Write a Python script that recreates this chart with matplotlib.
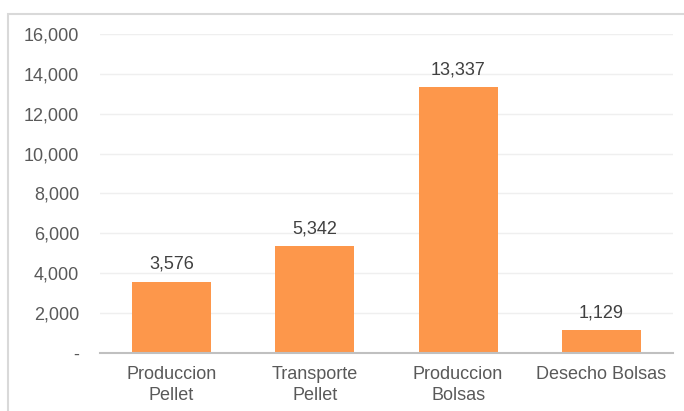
import matplotlib
matplotlib.use("Agg")
import matplotlib.pyplot as plt
from matplotlib.patches import Rectangle
from matplotlib.ticker import FuncFormatter

categories = ["Produccion\nPellet", "Transporte\nPellet", "Produccion\nBolsas", "Desecho Bolsas"]
values = [3576, 5342, 13337, 1129]
yticks = [0, 2000, 4000, 6000, 8000, 10000, 12000, 14000, 16000]

plt.rcParams["font.family"] = ["Liberation Sans", "DejaVu Sans"]
text_color = "#595959"
bar_color = "#FD974B"

fig = plt.figure(figsize=(6.84, 4.11), dpi=100)
fig.patch.set_facecolor("white")

# chart frame
fig.add_artist(Rectangle((7.5 / 684, -0.1), 1.2, 1 - 13.5 / 411 + 0.1,
                         transform=fig.transFigure, fill=False,
                         edgecolor="#d9d9d9", linewidth=1.5))

ax = fig.add_axes([100 / 684, 1 - 353 / 411, 573 / 684, 319 / 411])
x = range(len(categories))
bars = ax.bar(x, values, width=0.55, color=bar_color, zorder=3)

ax.set_ylim(0, 16000)
ax.set_xlim(-0.5, len(categories) - 0.5)
ax.set_yticks(yticks)
ax.yaxis.set_major_formatter(FuncFormatter(lambda v, p: "-" if v == 0 else f"{int(v):,}"))
ax.set_xticks(list(x))
ax.set_xticklabels(categories, linespacing=1.3)

ax.grid(axis="y", color="#efefef", linewidth=1.0, zorder=0)
for s in ["top", "right", "left"]:
    ax.spines[s].set_visible(False)
ax.spines["bottom"].set_color("#c0c0c0")
ax.spines["bottom"].set_linewidth(1.5)
ax.spines["bottom"].set_zorder(4)

ax.tick_params(axis="both", length=0, labelsize=13, labelcolor=text_color)
ax.tick_params(axis="y", pad=15)
ax.tick_params(axis="x", pad=9.5)

for b, v in zip(bars, values):
    ax.annotate(f"{v:,}", (b.get_x() + b.get_width() / 2, v),
                xytext=(0, 6.5), textcoords="offset points",
                ha="center", va="bottom", fontsize=13, color="#404040")

fig.savefig("out.png", dpi=100, facecolor="white")
